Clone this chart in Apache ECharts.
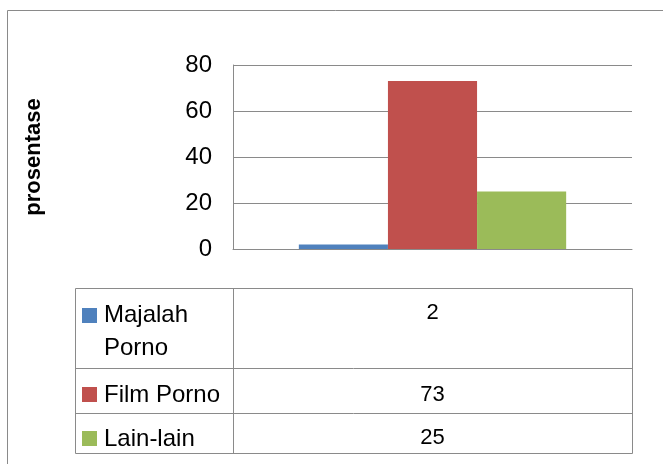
<!DOCTYPE html>
<html>
<head>
<meta charset="utf-8">
<script src="https://cdn.jsdelivr.net/npm/echarts@6/dist/echarts.min.js"></script>
<style>
  html, body { margin: 0; padding: 0; background: #fff; }
  #chart { width: 663px; height: 464px; }
</style>
</head>
<body>
<div id="chart"></div>
<script>
const categories = ['Majalah Porno', 'Film Porno', 'Lain-lain'];
const values = [2, 73, 25];
const colors = ['#4F81BD', '#C0504D', '#9BBB59'];
const yTicks = [0, 20, 40, 60, 80];

const FONT = '"Liberation Sans", Arial, sans-serif';
const LINE = '#8a8a8a';

const chart = echarts.init(document.getElementById('chart'), null, {renderer: 'canvas'});

// data table geometry (Excel style table under the plot)
const tblLeft = 75, tblMid = 233, tblRight = 632;
const rowEdges = [288, 368, 413, 453];
const labelY = [299, 395, 439];
const valueY = [313, 395, 438];

const graphic = [
  {
    type: 'rect', silent: true,
    shape: {x: 7.5, y: 10.5, width: 700, height: 500},
    style: {fill: null, stroke: LINE, lineWidth: 1}
  },
  {
    type: 'rect', silent: true,
    shape: {x: tblLeft + 0.5, y: rowEdges[0] + 0.5, width: tblRight - tblLeft, height: rowEdges[3] - rowEdges[0]},
    style: {fill: null, stroke: LINE, lineWidth: 1}
  },
  {
    type: 'line', silent: true,
    shape: {x1: tblMid + 0.5, y1: rowEdges[0], x2: tblMid + 0.5, y2: rowEdges[3]},
    style: {stroke: LINE, lineWidth: 1}
  }
];
[1, 2].forEach(i => {
  graphic.push({
    type: 'line', silent: true,
    shape: {x1: tblLeft, y1: rowEdges[i] + 0.5, x2: tblRight, y2: rowEdges[i] + 0.5},
    style: {stroke: LINE, lineWidth: 1}
  });
});
categories.forEach((name, i) => {
  const single = i > 0;
  graphic.push({
    type: 'rect', silent: true,
    shape: {x: 82, y: (i === 0 ? 316 : labelY[i]) - 8, width: 15, height: 15},
    style: {fill: colors[i]}
  });
  graphic.push({
    type: 'text', silent: true,
    x: 104, y: labelY[i],
    style: {
      text: name,
      font: '24px ' + FONT,
      fill: '#000',
      width: 126,
      overflow: 'break',
      lineHeight: 33,
      verticalAlign: single ? 'middle' : 'top'
    }
  });
  graphic.push({
    type: 'text', silent: true,
    x: (tblMid + tblRight) / 2, y: valueY[i],
    style: {
      text: String(values[i]),
      font: '22px ' + FONT,
      fill: '#000',
      align: 'center',
      verticalAlign: 'middle'
    }
  });
});

const option = {
  animation: false,
  backgroundColor: '#fff',
  grid: {left: 233, right: 31, top: 65, bottom: 215, containLabel: false},
  xAxis: {
    type: 'category',
    data: [''],
    axisLine: {show: true, lineStyle: {color: LINE, width: 1}},
    axisTick: {show: false},
    axisLabel: {show: false}
  },
  yAxis: {
    type: 'value',
    min: yTicks[0],
    max: yTicks[yTicks.length - 1],
    interval: yTicks[1] - yTicks[0],
    name: 'prosentase',
    nameLocation: 'middle',
    nameRotate: 90,
    nameGap: 188,
    nameTextStyle: {fontFamily: FONT, fontSize: 22, fontWeight: 'bold', color: '#000'},
    axisLine: {show: true, lineStyle: {color: LINE, width: 1}},
    axisTick: {show: false},
    axisLabel: {fontFamily: FONT, fontSize: 24, color: '#000', margin: 21},
    splitLine: {show: true, lineStyle: {color: LINE, width: 1}}
  },
  series: categories.map((name, i) => ({
    name: name,
    type: 'bar',
    data: [values[i]],
    barGap: 0,
    barCategoryGap: '33%',
    itemStyle: {color: colors[i]}
  })),
  graphic: graphic
};

chart.setOption(option);
</script>
</body>
</html>
